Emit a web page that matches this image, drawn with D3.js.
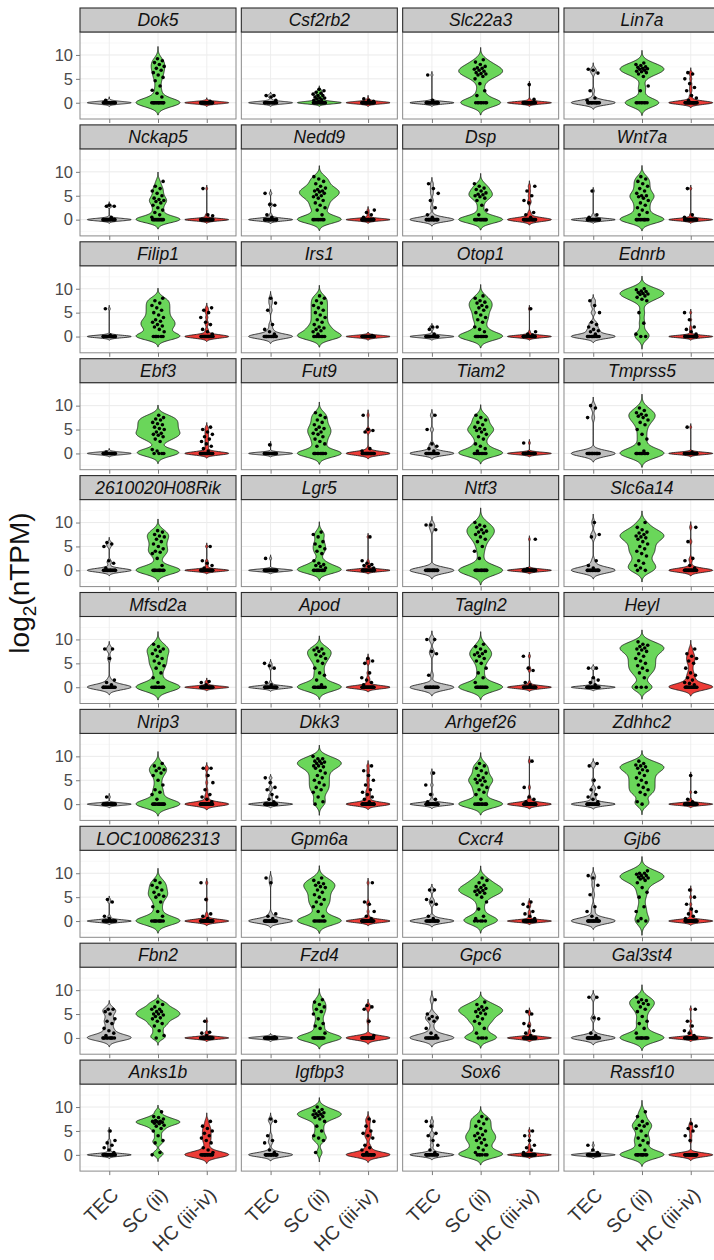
<!DOCTYPE html>
<html>
<head>
<meta charset="utf-8">
<script src="https://cdn.jsdelivr.net/npm/d3@7"></script>
<style>
  html, body { margin: 0; padding: 0; background: #ffffff; }
  svg { display: block; font-family: "Liberation Sans", Arial, sans-serif; }
</style>
</head>
<body>
<div id="chart"></div>
<script>
// ---------------- data ----------------
const genes = ["Dok5","Csf2rb2","Slc22a3","Lin7a","Nckap5","Nedd9","Dsp","Wnt7a",
  "Filip1","Irs1","Otop1","Ednrb","Ebf3","Fut9","Tiam2","Tmprss5",
  "2610020H08Rik","Lgr5","Ntf3","Slc6a14","Mfsd2a","Apod","Tagln2","Heyl",
  "Nrip3","Dkk3","Arhgef26","Zdhhc2","LOC100862313","Gpm6a","Cxcr4","Gjb6",
  "Fbn2","Fzd4","Gpc6","Gal3st4","Anks1b","Igfbp3","Sox6","Rassf10"];
const groups = ["TEC", "SC (ii)", "HC (iii-iv)"];
const yTicks = [0, 5, 10];
const yTitle = "log2(nTPM)";

// number of cells at ~0 log2(nTPM), per gene
const zeroTEC = [22,18,22,16, 20,18,16,20, 22,14,20,10, 22,22,14,16, 16,22,18,14,
                 14,20,16,18, 22,16,18,14, 18,18,16,16, 10,22,12,18, 18,16,14,22];
const zeroSC  = [16,20,8,8, 12,8,12,10, 6,8,10,0, 4,10,8,10, 10,10,12,0,
                 10,10,12,3, 12,0,10,0, 10,8,5,0, 0,12,4,10, 0,0,6,10];
const zeroHC  = [30,30,28,22, 26,26,20,22, 20,26,24,24, 20,22,24,24, 20,24,26,20,
                 24,20,22,14, 22,18,22,24, 22,22,22,22, 24,18,22,22, 14,16,20,22];

// remaining (expressed) cell values, per gene
const exprTEC = [
  [0.5],[0.5,1.2,1.5,1.5],[0.5,5.8],[0.5,1,2.5,6.2,6.8,7],
  [0.5,2.8,2.8,3],[0.5,1,3,3.2,5.5],[0.5,1,2.5,4,5.5,6.5,7.5],[0.5,1,6],
  [0.3,5.8],[0.5,1,1.5,2.5,5.5,7,8],[0.5,1.5,2,2],[0.5,1,1.2,1.5,2,2.5,3,5,6.5,7.5],
  [0.3],[1.8],[0.5,1,1.5,2,5,8],[7.5,9.5,10],
  [0.5,1.5,2,5,5.5,5.8],[2.5],[8.5,9.5,9.5],[0.5,1,2,7,7.5,10],
  [0.5,1,1.5,6,8,8],[0.5,1,4,4.5,5],[2.5,7,7.5,10,10],[0.5,1,1.5,2,4,4],
  [1.5],[0.5,1,1.5,2,3,3.5,4.5,5.5],[0.5,1,2,4,6.5],[0.5,1,1.5,2,3,3.5,5,8,8.5],
  [0.5,1,4,4.5],[0.5,1,1.5,8,9],[0.5,1,3.5,4,4.5,6.5,6.5],[0.5,1,2,3,5.5,7.5,9,9.5],
  [0.5,1,1.5,2,3,3.5,4,5,5.5,6,6],[0.2],[0.5,1,2,3.5,4,4.2,4.5,5,8],[0.5,1,4,4.2,8.5,8.5],
  [0.5,1,1.5,2,2.5,3,5],[0.5,1,2.5,3,4,7,7.5],[0.5,1,2,3,4,4.5,6,7],[0.5,1,2]
];
const exprSC = [
  [1.2,2,2.6,3.5,4.6,5.3,5.8,6.3,6.8,7.2,7.6,8,8.4,8.8,9.2],
  [0.3,0.5,0.6,0.8,1,1,1.2,1.5,1.5,1.8,2,2.2,2.5,2.8],
  [1.5,2.5,4,5,5.5,5.8,6,6.1,6.3,6.6,6.8,7,7.2,7.3,7.6,8,8.5,9],
  [2.5,3.5,5.5,6,6.3,6.5,6.6,6.8,7,7.1,7.2,7.4,7.5,7.8,8,8.3],
  [0.5,1,1.5,2,2.5,3,3.5,3.8,4,4.2,4.5,5,5.5,6,6.5,7,8],
  [1,2,2.5,3,3.5,4,4.5,4.8,5,5.2,5.5,5.8,6,6,6.3,6.6,7,7.5,8,8.5,9],
  [1,2,3,4,4.5,4.8,5,5.2,5.3,5.6,6,6.3,6.6,7,7.5],
  [1,1.5,2,2.5,3,3.5,4,4.5,4.8,5,5,5.5,6,6.5,7,7.5,8,8.5,9],
  [1,1.5,2,2.2,2.5,3,3.2,3.5,4,4.5,5,5.5,6,6.5,7,7.5,8],
  [0.5,1,1.2,1.5,1.8,2,2.5,3,3.5,4,4.5,5,5.5,6,6.5,7,7.5,8,8.5],
  [1,1.5,2,3,3.5,4,4.5,5,5.5,6,6.2,6.5,7,7.2,7.5,8,8.5],
  [0,0,0.5,2.8,5,7.5,7.8,8.2,8.5,8.8,8.9,9,9.2,9.4,9.5,9.8,10],
  [0.5,0.8,2.5,3,3.5,3.8,4,4.2,4.5,5,5.2,5.5,6,6.2,6.5,7,7.2,7.5,8],
  [1.5,2,2.5,3,3.5,4,4.2,4.5,5,5.2,5.5,6,6.5,7,7.5,8,8.5],
  [0.5,1,1.5,2,3,3.5,4,4.5,4.8,5,5.2,5.5,6,6.5,7,7.5,8],
  [0.5,2,3,4,5,6,6.5,7,7.5,7.8,8,8.2,8.5,9,9.5],
  [1,2.5,3.5,3.8,4,4.5,5,5.5,6,6.5,7,7.2,7.5,8,8.3],
  [0.5,0.8,1,1.2,1.5,2,3.5,4,4.5,5,5.5,6,7,7.5,8],
  [2.5,4,5,6,6.5,7,7.5,7.8,8,8.2,8.5,9,9.2,9.5,10],
  [0,0,0.5,1,1.5,2,3,3.5,4,4.5,5,5.5,6,6.5,6.8,7,7.2,7.5,7.8,8,8.5,9,10],
  [1,2,3,4,4.5,5,5.5,6,6.5,7,7.5,7.8,8,8.5,9],
  [0.5,1.5,2.5,3,4,5,5.5,6,6.5,6.8,7,7.5,7.8,8,8.2],
  [1,2,3,4,5,5.5,6,6.5,6.8,7,7.2,7.5,8,8.5,9],
  [2,3,3.5,4,4.5,5,5.5,6,6.5,7,7.5,7.8,8,8.2,8.5,8.8,9,9.5],
  [1,2,2.5,3,4,5,6,6.5,7,7.2,7.5,8,8.5],
  [0,0.5,1.5,2.5,3,3.5,4,4.5,5,5.5,6,6.5,7,7.5,7.8,8,8,8.5,8.5,8.8,9,9,9.5,9.5,10],
  [1,2,2.5,3,3.5,4,4.5,4.8,5,5.2,5.5,6,6.5,7,7.5,8,8.5],
  [0,0.5,2,2.5,3,3.5,4,4.5,5,5.5,6,6.5,7,7.2,7.5,7.8,8,8.2,8.5,9],
  [1,2,3,4,5,5.2,5.5,6,6.5,7,7.5,8,8.5],
  [1,2,3,3.5,4,4.5,5,5.5,6,6.5,7,7.2,7.5,7.8,8,8.5,9],
  [0.5,1,2.5,4,5,5.5,5.8,6,6.2,6.4,6.5,6.8,7,7.2,7.5,8,8.5,9],
  [0,0,0.5,2,3,5,6,7,8,8.5,8.8,9,9,9.2,9.5,9.5,9.8,10,10,10.5],
  [0,0.5,1.5,2.5,3,3.5,4,4.2,4.5,4.8,5,5,5.5,5.5,6,6,6.5,7,7.5],
  [1,2,2.5,3,4,5,5.5,6,6.5,7,7.5,8],
  [1,2,3,3.5,4,4.5,5,5.2,5.5,5.8,6,6.2,6.5,7,7.5],
  [1,2,3,3.5,4.5,5.5,6,6.5,7,7.2,7.5,7.8,8,8.5],
  [0,0.5,2.5,3,4,5,5.5,6,6.2,6.5,6.6,6.8,6.9,7,7,7.2,7.5,7.8,8,9],
  [0.5,3,3.5,4,5,6,7,7.5,7.8,8,8.2,8.4,8.5,8.6,8.8,9,9.2,9.5,10],
  [0.5,1,1.5,2,2.5,3,3.2,3.5,4,4.2,4.5,5,5.5,6,6.5,7,7.5,8],
  [1,2,2.5,3,3.5,4,5,5.5,6,6.2,6.5,7,8,9]
];
const exprHC = [
  [0.3],[0.3,0.5,0.8],[0.7,3.8],[0.5,1,1.5,2.5,3.2,4,5,6,6.3],
  [0.8,1,6.5],[0.5,1,1.5,2],[0.5,1,1.5,3.5,4,5,6,7],[0.5,1,6.5],
  [0.5,1,1.5,2.5,3,4,5,5.5,6],[0.2],[0.3,0.5,1,5.8],[0.5,1,1.5,2,3.5,5],
  [0.5,1,1.5,2,2.5,3,3.5,4,4.5,5,5.5],[0.5,1,4.5,4.8,5,8],[0.2,2.2],[0.3,5.5],
  [0.5,1,1.5,2,5],[0.5,0.8,1,1.2,1.5,2,7],[0.3,6.5],[0.5,1,2,2.5,6,9],
  [0.5,1,1.2],[0.5,1,1.5,2,3,5,5.5,6],[0.5,1,3.5,4,6.5],[0.5,0.8,1,1.5,2,2.5,3,4,5,5.5,6,6.5,7,8],
  [0.5,1,1.5,2,3,4.5,6,7.5,7.5],[0.5,1,1.5,2,2.5,3,4,5,6,7,8],[0.5,1,1.5,3.5,9],[0.5,1,2.5,6],
  [0.5,1,1.5,4.5,8],[0.5,1,2,3.5,4,8],[0.5,1,1.5,2,3,3.5,4],[0.5,1,1.5,2,2.5,3.5,5,6.5],
  [0.5,1,1.2,3.5],[0.5,3.5,6,6.5,6.8],[0.5,1,1.5,2.5,3,5,5.5],[0.5,1,1.5,2.5,3.5,6],
  [0.5,1,1.5,2.5,3,3.5,4,4.5,5,5.5,6,7],[0.5,1,1.5,2,3.5,4,4.5,5,6,7,7.5],[0.5,1,1.5,2,3,4,5],[3,4,5,5.5,6,6.5]
];

// ---------------- layout / style ----------------
const W = 714, H = 1260;
const nCols = 4;
const panelX0 = 80, colStep = 161.33, panelW = 156;
const rowY0 = 8, rowStep = 116.9, stripH = 24, panelH = 87;
const fills = ["#bebebe", "#6ad65a", "#ec3c37"];
const zeroArrs = [zeroTEC, zeroSC, zeroHC];
const exprArrs = [exprTEC, exprSC, exprHC];

const x = d3.scalePoint().domain(groups).range([0, panelW]).padding(0.6);
const y = d3.scaleLinear().domain([-3.4, 14.8]).range([panelH, 0]);
const halfW = 0.45 * x.step();

function bandwidth(v) {
  const n = v.length;
  const s = d3.deviation(v) || 0;
  const sorted = v.slice().sort(d3.ascending);
  const iqr = d3.quantileSorted(sorted, 0.75) - d3.quantileSorted(sorted, 0.25);
  if (iqr / 1.34 < 0.5 * s || iqr === 0) {
    // mostly non-expressing cells: narrow kernel
    return Math.min(Math.max(0.4 * 0.9 * s * Math.pow(n, -0.2), 0.25), 0.6);
  }
  const lo = Math.min(s, iqr / 1.34);
  return Math.max(0.55 * 0.9 * lo * Math.pow(n, -0.2), 0.25);
}
function violin(v) {
  const bw = bandwidth(v);
  const lo = d3.min(v) - 3 * bw, hi = d3.max(v) + 3 * bw;
  const N = 180;
  const pts = d3.range(N + 1).map(i => {
    const t = lo + (hi - lo) * i / N;
    let d = 0;
    for (const xi of v) { const u = (t - xi) / bw; d += Math.exp(-0.5 * u * u); }
    return { t, d };
  });
  const m = d3.max(pts, p => p.d);
  pts.forEach(p => p.w = p.d / m * halfW);
  return pts;
}

const svg = d3.select("#chart").append("svg")
  .attr("width", W).attr("height", H);
svg.append("rect").attr("width", W).attr("height", H).attr("fill", "#fff");

genes.forEach((gene, gi) => {
  const col = gi % nCols, row = Math.floor(gi / nCols);
  const px = panelX0 + col * colStep;
  const sy = rowY0 + row * rowStep;
  const g = svg.append("g").attr("transform", `translate(${px},${sy + stripH})`);

  // panel background & grid
  g.append("rect").attr("width", panelW).attr("height", panelH).attr("fill", "#fff");
  [-2.5, 2.5, 7.5, 12.5].forEach(v => g.append("line")
    .attr("x1", 0).attr("x2", panelW).attr("y1", y(v)).attr("y2", y(v))
    .attr("stroke", "#f3f3f3").attr("stroke-width", 0.6));
  yTicks.forEach(v => g.append("line")
    .attr("x1", 0).attr("x2", panelW).attr("y1", y(v)).attr("y2", y(v))
    .attr("stroke", "#e8e8e8").attr("stroke-width", 0.9));
  groups.forEach(c => g.append("line")
    .attr("x1", x(c)).attr("x2", x(c)).attr("y1", 0).attr("y2", panelH)
    .attr("stroke", "#ececec").attr("stroke-width", 0.9));

  // violins + points
  groups.forEach((c, k) => {
    const vals = d3.range(zeroArrs[k][gi]).map(() => 0).concat(exprArrs[k][gi]);
    const cx = x(c);
    const vd = violin(vals);
    const area = d3.area()
      .y(d => y(d.t))
      .x0(d => cx - d.w)
      .x1(d => cx + d.w);
    g.append("path").datum(vd).attr("d", area)
      .attr("fill", fills[k]).attr("stroke", "#111").attr("stroke-width", 0.8)
      .attr("stroke-linejoin", "round");
    g.selectAll(null).data(vals).enter().append("circle")
      .attr("cx", (d, i) => cx + ((((i + 1) * 0.6180339887 + k * 0.3 + gi * 0.17) % 1) - 0.5) * 0.26 * x.step())
      .attr("cy", d => y(d))
      .attr("r", 1.8)
      .attr("fill", "#000");
  });

  // panel border
  g.append("rect").attr("width", panelW).attr("height", panelH)
    .attr("fill", "none").attr("stroke", "#8a8a8a").attr("stroke-width", 1);

  // x axis ticks (labels only on bottom row)
  const xAxis = g.append("g").attr("transform", `translate(0,${panelH})`)
    .call(d3.axisBottom(x).tickSize(4).tickPadding(2));
  xAxis.select(".domain").remove();
  xAxis.selectAll(".tick line").attr("stroke", "#7a7a7a");
  if (row === Math.floor((genes.length - 1) / nCols)) {
    xAxis.selectAll(".tick text")
      .attr("fill", "#333")
      .attr("font-size", 19.5)
      .attr("text-anchor", "end")
      .attr("dy", null).attr("y", null)
      .attr("transform", "translate(10,25) rotate(-45)");
  } else {
    xAxis.selectAll(".tick text").remove();
  }

  // y axis on first column
  if (col === 0) {
    const yAxis = g.append("g").call(d3.axisLeft(y).tickValues(yTicks).tickSize(4).tickPadding(3));
    yAxis.select(".domain").remove();
    yAxis.selectAll(".tick line").attr("stroke", "#7a7a7a");
    yAxis.selectAll(".tick text").attr("fill", "#4a4a4a").attr("font-size", 16.5);
  }

  // strip
  const s = svg.append("g").attr("transform", `translate(${px},${sy})`);
  s.append("rect").attr("x", 0).attr("y", 0).attr("width", panelW).attr("height", stripH)
    .attr("fill", "#cacaca").attr("stroke", "#2a2a2a").attr("stroke-width", 1.1);
  s.append("text").attr("x", panelW / 2).attr("y", stripH / 2 + 6.3)
    .attr("text-anchor", "middle").attr("font-size", 17.5)
    .attr("font-style", "italic").attr("fill", "#111").text(gene);
});

// y axis title with subscript
const t = svg.append("text")
  .attr("transform", "translate(29,583) rotate(-90)")
  .attr("text-anchor", "middle").attr("font-size", 28).attr("fill", "#111");
t.append("tspan").text(yTitle.slice(0, 3));
t.append("tspan").attr("font-size", 19).attr("dy", 7).text(yTitle.slice(3, 4));
t.append("tspan").attr("dy", -7).text(yTitle.slice(4));
</script>
</body>
</html>
